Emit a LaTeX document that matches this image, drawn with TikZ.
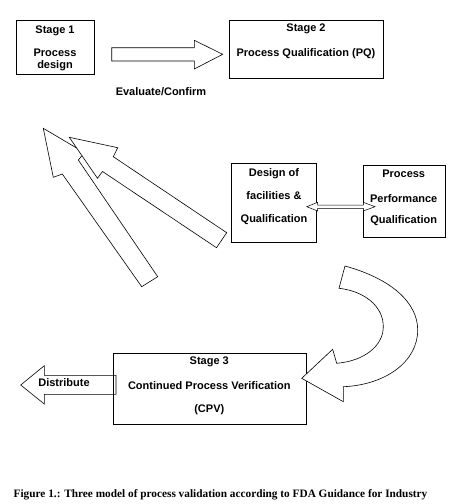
\documentclass[tikz,border=0pt]{standalone}
\usepackage{fontspec}
\setmainfont{Liberation Serif}
\setsansfont{Liberation Sans}

\tikzset{
  stagebox/.style={draw, line width=0.8pt, inner sep=0pt},
  lbl/.style={font=\sffamily\bfseries\fontsize{11}{13}\selectfont, inner sep=0pt},
  blockarrow/.style={draw, fill=white, line width=0.6pt, line join=miter}
}

\begin{document}
\begin{tikzpicture}[x=1pt, y=-1pt]
  \useasboundingbox (0,0) rectangle (450,504);

  % stage boxes
  \node[stagebox, minimum width=77.6pt, minimum height=53.3pt] (stageone) at (55.5,47.35) {};
  \node[stagebox, minimum width=154pt, minimum height=57.6pt] (stagetwo) at (306.3,49.5) {};
  \node[stagebox, minimum width=84.3pt, minimum height=79pt] (design) at (273.85,202.8) {};
  \node[stagebox, minimum width=82pt, minimum height=72pt] (ppq) at (404.3,201.3) {};

  % distribute arrow (under stage 3)
  \draw[blockarrow] (116,375.3) -- (44.3,375.3) -- (44.3,365.7) -- (20.7,385)
    -- (44.3,404) -- (44.3,394.3) -- (116,394.3) -- cycle;
  \node[stagebox, minimum width=192.7pt, minimum height=70.7pt] (stagethree) at (209.65,388.65) {};

  % evaluate arrow
  \draw[blockarrow] (111.7,47.7) -- (194.3,47.7) -- (194.3,40.3) -- (222.7,54.3)
    -- (194.3,69) -- (194.3,61) -- (111.7,61) -- cycle;

  % double arrow between the qualification boxes
  \draw[blockarrow, line width=0.5pt] (306.7,206.7) -- (317.7,202.3) -- (317.7,205) -- (363.3,205)
    -- (363.3,202.3) -- (375,206.7) -- (363.3,211) -- (363.3,208.3) -- (317.7,208.3)
    -- (317.7,211) -- cycle;

  % two feedback arrows
  \draw[blockarrow] (43.3,128.3) -- (84.5,152.7) -- (78.3,160) -- (157.7,276.7)
    -- (141.7,286.7) -- (62.3,174) -- (53.3,177.3) -- cycle;
  \draw[blockarrow] (69.3,137.3) -- (117.7,147.7) -- (113.3,156.7) -- (226.7,232.7)
    -- (216.5,247.7) -- (102.5,171.5) -- (97.5,178.3) -- cycle;

  % curved arrow into stage 3
  \draw[blockarrow] (345,266) .. controls (392,279) and (417.7,303) .. (417.7,330)
    .. controls (417.7,362) and (385,385) .. (343.3,386.7)
    -- (343.3,401.7) -- (301.7,378.3) -- (332.7,349.3) -- (336.7,363.3)
    .. controls (364,361) and (383.3,346) .. (383.3,326.7)
    .. controls (383.3,306) and (364,291) .. (339,288.3) -- cycle;

  % labels
  \node[lbl] (s1a) at (55,31) {Stage 1};
  \node[lbl] (s1b) at (55,52.7) {Process};
  \node[lbl] (s1c) at (55,65.7) {design};
  \node[lbl] (s2a) at (306,29.3) {Stage 2};
  \node[lbl] (s2b) at (306,54) {Process Qualification (PQ)};
  \node[lbl] (eval) at (161,91.7) {Evaluate/Confirm};
  \node[lbl] (dfa) at (274,173.3) {Design of};
  \node[lbl] (dfb) at (274,196) {facilities \&};
  \node[lbl] (dfc) at (274,220) {Qualification};
  \node[lbl] (ppa) at (403.7,174) {Process};
  \node[lbl] (ppb) at (403.7,198.3) {Performance};
  \node[lbl] (ppc) at (403.7,221) {Qualification};
  \node[lbl] (s3a) at (209.3,362.3) {Stage 3};
  \node[lbl] (s3b) at (209.3,386) {Continued Process Verification};
  \node[lbl] (s3c) at (209.3,409.3) {(CPV)};
  \node[lbl] (dist) at (64,382.3) {Distribute};
  \node[font=\bfseries\fontsize{11.3}{13}\selectfont, inner sep=0pt] (caption) at (220.5,494.3)
    {Figure 1.: Three model of process validation according to FDA Guidance for Industry};
\end{tikzpicture}
\end{document}
